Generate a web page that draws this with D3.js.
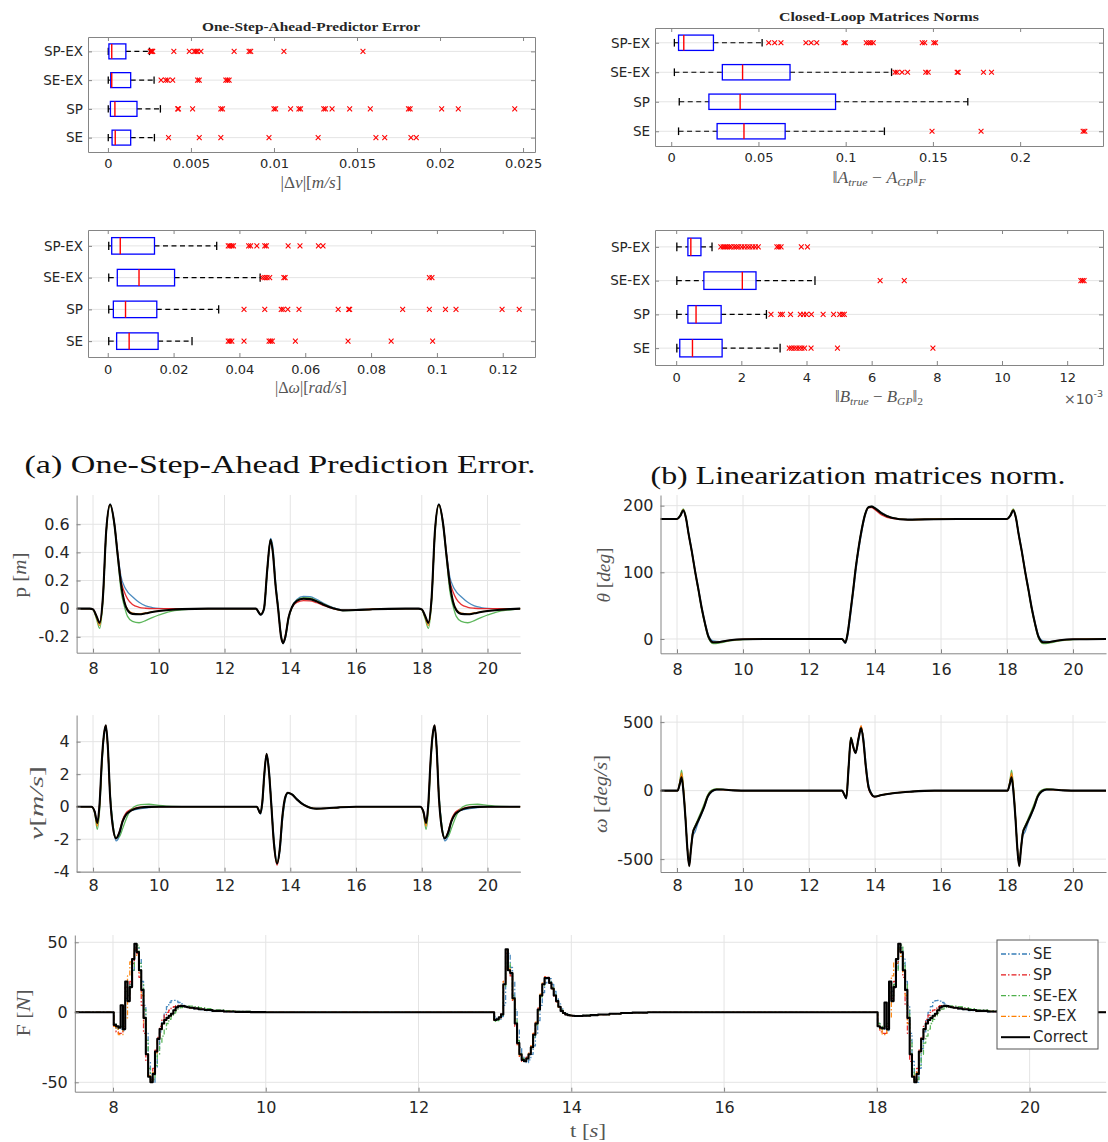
<!DOCTYPE html>
<html>
<head>
<meta charset="utf-8">
<script src="https://cdn.jsdelivr.net/npm/d3@7"></script>
<style>
  body { margin: 0; background: #fff; }
  svg { display: block; }
</style>
</head>
<body>
<svg id="fig" width="1108" height="1142"></svg>
<script>
// ---------------- box-plot statistics ----------------
// category order from bottom to top of each box plot
const CATS = ["SE", "SP", "SE-EX", "SP-EX"];

// each row: [lower whisker, q1, median, q3, upper whisker]
const dvStats = [
  [0.00002, 0.00025, 0.00044, 0.00137, 0.0028],
  [0.00002, 0.00015, 0.00042, 0.00175, 0.00316],
  [0.00002, 0.00017, 0.00023, 0.00137, 0.00278],
  [0.00002, 0.00006, 0.00023, 0.00108, 0.0025]
];
const dvOutliers = [
  [0.00365, 0.0055, 0.0068, 0.0097, 0.01266, 0.01614, 0.01667, 0.01825, 0.01857],
  [0.0042, 0.00425, 0.0051, 0.0068, 0.0069, 0.0100, 0.0101, 0.0110, 0.0115, 0.0116, 0.0130, 0.0131, 0.0135, 0.01456, 0.0158, 0.0181, 0.0182, 0.0201, 0.0211, 0.0245],
  [0.0032, 0.00348, 0.0036, 0.0039, 0.0054, 0.0055, 0.0071, 0.0072, 0.0073],
  [0.00255, 0.0026, 0.00265, 0.0027, 0.00397, 0.0049, 0.0052, 0.0053, 0.0054, 0.0056, 0.0076, 0.0085, 0.0086, 0.0106, 0.01536]
];
const dvTicks = [0, 0.005, 0.01, 0.015, 0.02, 0.025];
const dvTickLabels = ["0", "0.005", "0.01", "0.015", "0.02", "0.025"];

const aStats = [
  [0.0042, 0.0263, 0.0417, 0.0653, 0.1222],
  [0.0046, 0.0216, 0.0395, 0.0942, 0.17],
  [0.0018, 0.0293, 0.0409, 0.0681, 0.1263],
  [0.0018, 0.0042, 0.0072, 0.0242, 0.0521]
];
const aOutliers = [
  [0.1495, 0.1776, 0.2361, 0.2371],
  [],
  [0.1283, 0.1295, 0.1323, 0.1355, 0.1459, 0.1473, 0.1639, 0.1645, 0.179, 0.1836],
  [0.0559, 0.0593, 0.0629, 0.0772, 0.0802, 0.0834, 0.099, 0.0998, 0.1118, 0.1132, 0.1144, 0.1158, 0.1439, 0.1453, 0.1505, 0.1515]
];
const aTicks = [0, 0.05, 0.1, 0.15, 0.2];
const aTickLabels = ["0", "0.05", "0.1", "0.15", "0.2"];

const dwStats = [
  [0.0003, 0.0027, 0.0065, 0.0153, 0.0256],
  [0.0003, 0.0017, 0.0054, 0.0149, 0.0337],
  [0.0003, 0.0029, 0.0095, 0.0203, 0.0463],
  [0.0003, 0.0012, 0.0038, 0.0142, 0.0331]
];
const dwOutliers = [
  [0.0366, 0.0371, 0.0377, 0.0414, 0.049, 0.0495, 0.05, 0.057, 0.073, 0.0861, 0.0987],
  [0.0414, 0.0477, 0.0527, 0.0533, 0.0547, 0.0581, 0.07, 0.0732, 0.0735, 0.0896, 0.0977, 0.1026, 0.1058, 0.1198, 0.125],
  [0.047, 0.0477, 0.0484, 0.0492, 0.0535, 0.0539, 0.0977, 0.0985],
  [0.0366, 0.0371, 0.0377, 0.0382, 0.0428, 0.0434, 0.0453, 0.0477, 0.0482, 0.0548, 0.0584, 0.064, 0.0654]
];
const dwTicks = [0, 0.02, 0.04, 0.06, 0.08, 0.1, 0.12];
const dwTickLabels = ["0", "0.02", "0.04", "0.06", "0.08", "0.1", "0.12"];

// values in units of 1e-3
const bStats = [
  [0.02, 0.11, 0.5, 1.41, 3.19],
  [0.02, 0.36, 0.61, 1.38, 2.77],
  [0.02, 0.85, 2.03, 2.45, 4.26],
  [0.02, 0.36, 0.45, 0.76, 1.1]
];
const bOutliers = [
  [3.47, 3.54, 3.62, 3.7, 3.78, 3.86, 3.94, 4.14, 4.95, 7.88],
  [2.91, 3.2, 3.26, 3.51, 3.81, 3.91, 4.0, 4.15, 4.51, 4.83, 5.02, 5.1, 5.16],
  [6.26, 7.0, 12.42, 12.47, 12.52],
  [1.37, 1.44, 1.5, 1.56, 1.63, 1.69, 1.78, 1.85, 1.92, 2.01, 2.09, 2.18, 2.26, 2.35, 2.43, 2.52, 3.09, 3.15, 3.22, 3.84, 4.03]
];
const bTicks = [0, 2, 4, 6, 8, 10, 12];
const bTickLabels = ["0", "2", "4", "6", "8", "10", "12"];

// ---------------- time histories ----------------
const SERIES = ["SE", "SP", "SE-EX", "SP-EX", "Correct"];
const timeTicks = [8, 10, 12, 14, 16, 18, 20];

// cart position p [m]
const tP = [7.5,7.9,8.0,8.1,8.2,8.3,8.4,8.52,8.65,8.75,8.85,8.95,9.05,9.2,9.4,9.6,9.8,10.0,10.3,10.7,11.5,12.5,
  12.95,13.1,13.2,13.3,13.4,13.47,13.55,13.63,13.72,13.78,13.85,13.95,14.05,14.2,14.4,14.6,14.8,15.0,15.3,15.6,16.0,16.5,17.5,17.9,
  18.0,18.1,18.2,18.3,18.4,18.52,18.65,18.75,18.85,18.95,19.05,19.2,19.4,19.6,19.8,20.0,20.3,20.7,21.0];
const pSE = [0,0,-0.005,-0.055,-0.11,0.07,0.54,0.745,0.61,0.40,0.23,0.16,0.12,0.085,0.045,0.02,0.008,0.002,0,0,0,0,
  0,-0.045,-0.01,0.26,0.5,0.44,0.2,0.02,-0.19,-0.25,-0.21,-0.07,0.01,0.065,0.088,0.086,0.066,0.04,0.008,-0.01,-0.01,-0.004,0,0,
  -0.005,-0.055,-0.11,0.07,0.54,0.745,0.61,0.40,0.23,0.16,0.12,0.085,0.045,0.02,0.008,0.002,0,0,0];
const pSP = [0,0,-0.005,-0.05,-0.10,0.08,0.55,0.74,0.60,0.39,0.2,0.12,0.07,0.03,0.01,0.003,0,0,0,0,0,0,
  0,-0.04,0.0,0.28,0.48,0.4,0.17,0.0,-0.2,-0.24,-0.19,-0.06,0.008,0.045,0.057,0.056,0.042,0.024,0.0,-0.012,-0.01,-0.004,0,0,
  -0.005,-0.05,-0.10,0.08,0.55,0.74,0.60,0.39,0.2,0.12,0.07,0.03,0.01,0.003,0,0,0,0,0];
const pSEEX = [0,0,-0.008,-0.07,-0.14,0.05,0.53,0.735,0.59,0.37,0.13,0.02,-0.055,-0.09,-0.1,-0.085,-0.063,-0.045,-0.022,-0.008,0,0,
  0,-0.04,0.0,0.27,0.49,0.41,0.18,0.01,-0.19,-0.24,-0.2,-0.065,0.01,0.06,0.078,0.076,0.058,0.034,0.004,-0.014,-0.012,-0.005,0,0,
  -0.008,-0.07,-0.14,0.05,0.53,0.735,0.59,0.37,0.13,0.02,-0.055,-0.09,-0.1,-0.085,-0.063,-0.045,-0.022,-0.008,0];
const pSPEX = [0,0,-0.006,-0.06,-0.12,0.07,0.54,0.74,0.6,0.38,0.17,0.055,-0.005,-0.032,-0.036,-0.03,-0.022,-0.015,-0.008,-0.003,0,0,
  0,-0.042,0.0,0.28,0.49,0.4,0.17,0.0,-0.2,-0.245,-0.2,-0.06,0.01,0.055,0.07,0.068,0.052,0.03,0.003,-0.012,-0.01,-0.004,0,0,
  -0.006,-0.06,-0.12,0.07,0.54,0.74,0.6,0.38,0.17,0.055,-0.005,-0.032,-0.036,-0.03,-0.022,-0.015,-0.008,-0.003,0];
const pTrue = [0,0,-0.005,-0.05,-0.10,0.08,0.55,0.74,0.60,0.38,0.18,0.05,-0.01,-0.037,-0.04,-0.033,-0.024,-0.017,-0.009,-0.003,0,0,
  0,-0.042,0.0,0.28,0.49,0.4,0.17,0.0,-0.2,-0.245,-0.2,-0.06,0.01,0.055,0.07,0.068,0.052,0.03,0.003,-0.012,-0.01,-0.004,0,0,
  -0.005,-0.05,-0.10,0.08,0.55,0.74,0.60,0.38,0.18,0.05,-0.01,-0.037,-0.04,-0.033,-0.024,-0.017,-0.009,-0.003,0];
const pTicks = [-0.2, 0, 0.2, 0.4, 0.6];

// pole angle theta [deg]
const tTh = [7.5,8.0,8.1,8.19,8.27,8.35,8.45,8.55,8.65,8.75,8.85,8.95,9.1,9.3,9.6,10.0,11.0,12.5,
  13.0,13.1,13.17,13.25,13.33,13.42,13.5,13.6,13.7,13.8,13.9,14.0,14.2,14.5,15.0,15.5,16.5,17.5,
  18.0,18.1,18.19,18.27,18.35,18.45,18.55,18.65,18.75,18.85,18.95,19.1,19.3,19.6,20.0,21.0];
const thSE = [180,180,184,192,182,160,133,103,76,48,25,6,-3,-4,-2,-0.5,0,0,
  0,-6.5,4,32,64,102,131,161,185,197,199,197,189.5,182.5,179,179.5,180,180,
  180,184,192,182,160,133,103,76,48,25,6,-3,-4,-2,-0.5,0];
const thSP = [180,180,185,193,181,157,130,100,73,45,22,3,-6.5,-5,-2,-0.5,0,0,
  0,-5.5,8,38,70,108,136,165,187,197,197,194,186,181,179,179.5,180,180,
  180,185,193,181,157,130,100,73,45,22,3,-6.5,-5,-2,-0.5,0];
const thSEEX = [180,180,186,195,183,158,130,100,72,44,21,2,-7,-6,-3,-1,0,0,
  0,-5,9,39,71,109,137,166,188,198,199,196.5,189,182,179,179.5,180,180,
  180,186,195,183,158,130,100,72,44,21,2,-7,-6,-3,-1,0];
const thSPEX = [180,180,185,194,182,158,131,101,74,46,23,4,-5,-4.5,-2,-0.5,0,0,
  0,-5.5,8,38,70,108,136,165,187,197.5,198.5,196,188.5,182,179,179.5,180,180,
  180,185,194,182,158,131,101,74,46,23,4,-5,-4.5,-2,-0.5,0];
const thTrue = [180,180,185,193,182,158,131,101,74,46,23,4,-5,-4.5,-2,-0.5,0,0,
  0,-5.5,8,38,70,108,136,165,187,197.5,198.5,196,188.5,182,179,179.5,180,180,
  180,185,193,182,158,131,101,74,46,23,4,-5,-4.5,-2,-0.5,0];
const thTicks = [0, 100, 200];

// cart velocity v [m/s]
const tV = [7.5,7.95,8.05,8.13,8.2,8.27,8.33,8.39,8.45,8.52,8.6,8.7,8.8,8.9,9.0,9.1,9.25,9.45,9.7,10.0,10.4,11.0,12.5,
  12.98,13.09,13.15,13.21,13.28,13.35,13.42,13.5,13.6,13.68,13.76,13.85,13.93,14.05,14.2,14.4,14.6,14.8,15.1,15.5,16.0,17.5,
  17.95,18.05,18.13,18.2,18.27,18.33,18.39,18.45,18.52,18.6,18.7,18.8,18.9,19.0,19.1,19.25,19.45,19.7,20.0,20.4,21.0];
const vSE = [0,0,-0.3,-1.05,0.1,2.7,4.3,4.95,3.7,0.8,-1.0,-2.1,-1.8,-0.9,-0.45,-0.3,-0.2,-0.12,-0.05,-0.01,0,0,0,
  0,-0.45,0.1,1.8,3.2,2.4,0.4,-1.9,-3.4,-2.8,-0.9,0.45,0.82,0.76,0.47,0.14,-0.05,-0.13,-0.11,-0.04,0,0,
  0,-0.3,-1.05,0.1,2.7,4.3,4.95,3.7,0.8,-1.0,-2.1,-1.8,-0.9,-0.45,-0.3,-0.2,-0.12,-0.05,-0.01,0,0];
const vSP = [0,0,-0.3,-1.0,0.2,2.9,4.4,5.0,3.6,0.6,-1.2,-1.95,-1.55,-0.8,-0.4,-0.22,-0.1,-0.03,0,0,0,0,0,
  0,-0.4,0.3,2.0,3.25,2.2,0.2,-2.25,-3.6,-2.6,-0.6,0.6,0.86,0.75,0.45,0.12,-0.06,-0.12,-0.1,-0.04,0,0,
  0,-0.3,-1.0,0.2,2.9,4.4,5.0,3.6,0.6,-1.2,-1.95,-1.55,-0.8,-0.4,-0.22,-0.1,-0.03,0,0,0,0];
const vSEEX = [0,0,-0.4,-1.4,-0.2,2.6,4.3,4.9,3.7,0.8,-1.0,-1.9,-1.85,-1.35,-0.8,-0.35,0.0,0.13,0.15,0.08,0.02,0,0,
  0,-0.4,0.25,1.95,3.2,2.25,0.25,-2.1,-3.45,-2.65,-0.7,0.55,0.85,0.76,0.46,0.13,-0.05,-0.13,-0.11,-0.04,0,0,
  0,-0.4,-1.4,-0.2,2.6,4.3,4.9,3.7,0.8,-1.0,-1.9,-1.85,-1.35,-0.8,-0.35,0.0,0.13,0.15,0.08,0.02,0];
const vSPEX = [0,0,-0.35,-1.2,0.1,2.8,4.4,5.0,3.6,0.6,-1.2,-1.95,-1.6,-0.9,-0.5,-0.3,-0.14,-0.05,-0.01,0,0,0,0,
  0,-0.4,0.3,2.0,3.25,2.2,0.2,-2.2,-3.5,-2.6,-0.6,0.6,0.86,0.75,0.45,0.12,-0.06,-0.12,-0.1,-0.04,0,0,
  0,-0.35,-1.2,0.1,2.8,4.4,5.0,3.6,0.6,-1.2,-1.95,-1.6,-0.9,-0.5,-0.3,-0.14,-0.05,-0.01,0,0,0];
const vTrue = [0,0,-0.3,-1.0,0.2,2.9,4.4,5.0,3.7,0.6,-1.2,-1.95,-1.6,-0.9,-0.5,-0.32,-0.15,-0.05,-0.01,0,0,0,0,
  0,-0.4,0.3,2.0,3.25,2.2,0.2,-2.2,-3.5,-2.6,-0.6,0.6,0.86,0.75,0.45,0.12,-0.06,-0.12,-0.1,-0.04,0,0,
  0,-0.3,-1.0,0.2,2.9,4.4,5.0,3.7,0.6,-1.2,-1.95,-1.6,-0.9,-0.5,-0.32,-0.15,-0.05,-0.01,0,0,0];
const vTicks = [-4, -2, 0, 2, 4];

// pole angular velocity omega [deg/s]
const tW = [7.5,8.02,8.08,8.14,8.2,8.26,8.31,8.37,8.42,8.48,8.55,8.63,8.72,8.82,8.93,9.05,9.2,9.4,9.7,10.2,12.5,
  13.0,13.08,13.13,13.2,13.27,13.34,13.41,13.5,13.58,13.65,13.72,13.8,13.88,13.98,14.2,14.6,15.1,15.8,17.5,
  18.02,18.08,18.14,18.2,18.26,18.31,18.37,18.42,18.48,18.55,18.63,18.72,18.82,18.93,19.05,19.2,19.4,19.7,20.2,21.0];
const wSE = [0,0,40,90,-30,-220,-405,-540,-440,-330,-300,-240,-185,-125,-50,-10,5,8,2,0,0,
  0,-40,-60,140,370,330,270,360,445,390,210,50,-15,-42,-33,-18,-7,0,0,
  0,40,90,-30,-220,-405,-540,-440,-330,-300,-240,-185,-125,-50,-10,5,8,2,0,0];
const wSP = [0,0,50,110,-10,-210,-405,-545,-430,-305,-262,-220,-172,-112,-38,-2,9,8,2,0,0,
  0,-35,-50,180,385,315,275,385,470,355,170,20,-25,-46,-32,-17,-7,0,0,
  0,50,110,-10,-210,-405,-545,-430,-305,-262,-220,-172,-112,-38,-2,9,8,2,0,0];
const wSEEX = [0,0,60,150,10,-200,-400,-540,-425,-300,-255,-210,-160,-100,-30,4,12,9,2,0,0,
  0,-30,-50,185,390,318,278,382,462,362,178,28,-20,-44,-32,-17,-7,0,0,
  0,60,150,10,-200,-400,-540,-425,-300,-255,-210,-160,-100,-30,4,12,9,2,0,0];
const wSPEX = [0,0,55,130,0,-205,-405,-548,-432,-308,-263,-222,-175,-116,-40,-3,9,8,2,0,0,
  0,-35,-55,175,385,320,276,383,475,360,178,28,-20,-44,-32,-17,-7,0,0,
  0,55,130,0,-205,-405,-548,-432,-308,-263,-222,-175,-116,-40,-3,9,8,2,0,0];
const wTrue = [0,0,45,97,-20,-215,-410,-551,-434,-310,-265,-225,-178,-120,-44,-5,8,8,2,0,0,
  0,-35,-55,170,383,320,275,380,456,360,180,30,-20,-44,-32,-17,-7,0,0,
  0,45,97,-20,-215,-410,-551,-434,-310,-265,-225,-178,-120,-44,-5,8,8,2,0,0];
const wTicks = [-500, 0, 500];

// control force F [N], sampled and held
const tF = [7.5,
  8.01,8.04,8.07,8.10,8.13,8.16,8.19,8.22,8.25,8.28,8.31,8.34,8.37,8.40,8.43,8.46,8.49,8.52,8.55,8.58,
  8.61,8.64,8.67,8.70,8.73,8.76,8.79,8.82,8.85,8.88,8.91,8.94,8.97,9.00,
  9.06,9.12,9.2,9.3,9.45,9.6,9.8,10.0,
  12.99,13.02,13.05,13.08,13.11,13.14,13.17,13.20,13.23,13.26,13.29,13.32,13.35,13.38,13.41,13.44,13.47,13.50,13.53,13.56,
  13.59,13.62,13.65,13.68,13.71,13.74,13.77,13.80,13.83,13.86,13.89,13.92,13.95,13.98,14.01,14.04,14.07,
  14.15,14.25,14.35,14.5,14.65,14.8,15.0,
  18.01,18.04,18.07,18.10,18.13,18.16,18.19,18.22,18.25,18.28,18.31,18.34,18.37,18.40,18.43,18.46,18.49,18.52,18.55,18.58,
  18.61,18.64,18.67,18.70,18.73,18.76,18.79,18.82,18.85,18.88,18.91,18.94,18.97,19.00,
  19.06,19.12,19.2,19.3,19.45,19.6,19.8,20.0,21.0];
const fSE = [0,
  -8,-11,-12,-12,-13,10,15,20,30,44,46,38,22,5,-15,-35,-48,-50,-40,-26,
  -14,-6,0,4,7,8.3,8.5,8,7,6,5,4.2,3.5,3,
  2.4,1.9,1.3,0.8,0.4,0.2,0.1,0,
  -3,-5.5,-5,-3,5,30,42,32,22,2,-12,-25,-32,-35,-36,-34,-30,-24,-15,-6,
  5,14,21,25,24,20,15,10,6,2.5,0.5,-1,-1.8,-2.3,-2.6,-2.7,-2.7,
  -2.5,-2.1,-1.7,-1.1,-0.6,-0.2,0,
  -8,-11,-12,-12,-13,10,15,20,30,44,46,38,22,5,-15,-35,-48,-50,-40,-26,
  -14,-6,0,4,7,8.3,8.5,8,7,6,5,4.2,3.5,3,
  2.4,1.9,1.3,0.8,0.4,0.2,0.1,0,0];
const fSP = [0,
  -10,-14,-15,-15,-10,18,10,22,35,46,42,25,5,-15,-35,-46,-48,-40,-27,-18,
  -10,-5,-2,0,1.5,3,4,4.8,5,4.8,4.4,4,3.6,3.2,
  2.6,2.1,1.5,0.9,0.5,0.3,0.1,0,
  -5.5,-5,-4,-1,22,42,30,26,8,-10,-24,-32,-35,-35,-32,-29,-24,-15,-7,3,
  13,21,25.5,25,21,16.5,11.5,7.5,3.5,0.8,-0.7,-1.6,-2.1,-2.4,-2.5,-2.6,-2.6,
  -2.4,-2,-1.6,-1.0,-0.5,-0.2,0,
  -10,-14,-15,-15,-10,18,10,22,35,46,42,25,5,-15,-35,-46,-48,-40,-27,-18,
  -10,-5,-2,0,1.5,3,4,4.8,5,4.8,4.4,4,3.6,3.2,
  2.6,2.1,1.5,0.9,0.5,0.3,0.1,0,0];
const fSEEX = [0,
  -8,-12,-10,-10,-8,15,12,20,30,46,48,35,20,2,-20,-40,-48,-48,-38,-30,
  -22,-17,-12,-8,-5,-2.5,-0.5,1,2.3,3.3,4,4.4,4.5,4.4,
  4,3.4,2.6,1.8,1.1,0.6,0.3,0,
  -6.5,-6,-4.5,-2,18,40,35,28,12,-5,-20,-29,-33,-34.5,-33,-30,-26,-18,-9,1,
  11,19,24,24.5,21.5,17.5,12.5,8.5,4.5,1.5,-0.3,-1.3,-1.9,-2.2,-2.4,-2.5,-2.5,
  -2.3,-2,-1.6,-1.0,-0.5,-0.2,0,
  -8,-12,-10,-10,-8,15,12,20,30,46,48,35,20,2,-20,-40,-48,-48,-38,-30,
  -22,-17,-12,-8,-5,-2.5,-0.5,1,2.3,3.3,4,4.4,4.5,4.4,
  4,3.4,2.6,1.8,1.1,0.6,0.3,0,0];
const fSPEX = [0,
  -10,-12,-16,-16,-12,-4,26,36,38,45,40,28,12,-8,-30,-45,-49,-43,-29,-19,
  -12,-8,-5.5,-4,-2.5,-1,1.5,3.5,4.3,4.6,4.4,4,3.6,3.3,
  2.8,2.2,1.6,1.0,0.6,0.3,0.1,0,
  -5.5,-5,-3.5,-1,22,44,31,28,9,-8,-23,-31,-34,-35,-33,-29,-24,-15,-7,3,
  13,21,25,24.5,21,16.5,11.5,7.5,3.5,0.8,-0.6,-1.5,-2,-2.3,-2.5,-2.6,-2.6,
  -2.4,-2,-1.6,-1.0,-0.5,-0.2,0,
  -10,-12,-16,-16,-12,-4,26,36,38,45,40,28,12,-8,-30,-45,-49,-43,-29,-19,
  -12,-8,-5.5,-4,-2.5,-1,1.5,3.5,4.3,4.6,4.4,4,3.6,3.3,
  2.8,2.2,1.6,1.0,0.6,0.3,0.1,0,0];
const fTrue = [0,
  -9,-10,-11,5,-12,22,8,18,38,49,43,30,16,-4,-30,-46,-50,-44,-28,-19,
  -12,-8,-5.5,-4,-2.5,-1,1.5,3.5,4.3,4.6,4.4,4,3.6,3.3,
  2.8,2.2,1.6,1.0,0.6,0.3,0.1,0,
  -5.5,-5,-3.5,-1.5,20,45,30,28,10,-8,-22,-30,-34,-35,-33,-30,-25,-16,-8,2,
  12,20,24.5,24.5,21,17,12,8,4,1,-0.5,-1.5,-2,-2.3,-2.5,-2.6,-2.6,
  -2.4,-2,-1.6,-1.0,-0.5,-0.2,0,
  -10,-11,-11.5,7,-12,22,8,18,38,49,43,30,16,-4,-30,-46,-50,-44,-28,-19,
  -12,-8,-5.5,-4,-2.5,-1,1.5,3.5,4.3,4.6,4.4,4,3.6,3.3,
  2.8,2.2,1.6,1.0,0.6,0.3,0.1,0,0];
const fTicks = [-50, 0, 50];

// ---------------- styling ----------------
const SANS = '"DejaVu Sans", "Liberation Sans", sans-serif';
const SERIF = '"Liberation Serif", "DejaVu Serif", serif';
const AXIS = "#858585";
const GRID = "#e4e4e4";
const TICK_TXT = "#262626";
const LABEL = "#555555";
const COLORS = { "SE": "#377eb8", "SP": "#e41a1c", "SE-EX": "#4daf4a", "SP-EX": "#ff7f00", "Correct": "#000000" };

const svg = d3.select("#fig");

function styleAxis(sel, size) {
  sel.select(".domain").attr("stroke", AXIS).attr("stroke-width", 1);
  sel.selectAll(".tick line").attr("stroke", AXIS);
  sel.selectAll(".tick text").attr("fill", TICK_TXT).attr("font-family", SANS).attr("font-size", size || 13);
}

// text with italic / sub / superscript runs; parts = [[string, flags]]
function richText(g, x, y, parts, o) {
  const size = o.size;
  const t = g.append("text")
    .attr("x", x).attr("y", y)
    .attr("font-family", o.family || SERIF)
    .attr("font-size", size)
    .attr("fill", o.color || LABEL)
    .attr("text-anchor", o.anchor || "middle")
    .attr("dominant-baseline", "central");
  if (o.rotate) t.attr("transform", `rotate(-90,${x},${y})`);
  if (o.width) t.attr("textLength", o.width).attr("lengthAdjust", "spacingAndGlyphs");
  let shift = 0;
  parts.forEach(([s, f]) => {
    f = f || {};
    const ts = t.append("tspan").text(s);
    const target = f.sub ? size * 0.3 : (f.sup ? -size * 0.4 : 0);
    if (target !== shift) { ts.attr("dy", target - shift); shift = target; }
    if (f.i) ts.attr("font-style", "italic");
    if (f.sub || f.sup) ts.attr("font-size", size * 0.68);
  });
  return t;
}

// ---------------- box plots ----------------
function boxPanel(o) {
  const x = d3.scaleLinear().domain(o.domain).range([o.x0, o.x1]);
  const y = d3.scaleLinear().domain([0.5, 4.5]).range([o.y1, o.y0]);
  const band = (o.y1 - o.y0) / 4;
  const g = svg.append("g");

  g.append("g").selectAll("line").data(CATS).join("line")
    .attr("x1", o.x0).attr("x2", o.x1)
    .attr("y1", (d, i) => y(i + 1)).attr("y2", (d, i) => y(i + 1))
    .attr("stroke", GRID).attr("stroke-width", 1);

  g.append("g").attr("transform", `translate(0,${o.y1})`)
    .call(d3.axisBottom(x).tickValues(o.ticks).tickFormat((d, i) => o.tickLabels[i])
      .tickSizeInner(-4).tickSizeOuter(0).tickPadding(o.pad))
    .call(styleAxis, 13);
  g.append("g").attr("transform", `translate(0,${o.y0})`)
    .call(d3.axisTop(x).tickValues(o.ticks).tickFormat("").tickSizeInner(-4).tickSizeOuter(0))
    .call(styleAxis);
  g.append("g").attr("transform", `translate(${o.x0},0)`)
    .call(d3.axisLeft(y).tickValues([1, 2, 3, 4]).tickFormat(d => CATS[d - 1])
      .tickSizeInner(-4).tickSizeOuter(0).tickPadding(5))
    .call(styleAxis, 13.5);
  g.append("g").attr("transform", `translate(${o.x1},0)`)
    .call(d3.axisRight(y).tickValues([1, 2, 3, 4]).tickFormat("").tickSizeInner(-4).tickSizeOuter(0))
    .call(styleAxis);

  const h = band * 0.52, cap = band * 0.13;
  o.stats.forEach((s, i) => {
    const cy = y(i + 1);
    const row = g.append("g");
    [[s[0], s[1]], [s[3], s[4]]].forEach(([a, b]) => {
      row.append("line").attr("x1", x(a)).attr("x2", x(b)).attr("y1", cy).attr("y2", cy)
        .attr("stroke", "#000").attr("stroke-width", 1.1).attr("stroke-dasharray", "5,3.5");
    });
    [s[0], s[4]].forEach(v => {
      row.append("line").attr("x1", x(v)).attr("x2", x(v)).attr("y1", cy - cap).attr("y2", cy + cap)
        .attr("stroke", "#000").attr("stroke-width", 1.3);
    });
    row.append("rect").attr("x", x(s[1])).attr("y", cy - h / 2)
      .attr("width", x(s[3]) - x(s[1])).attr("height", h)
      .attr("fill", "none").attr("stroke", "#0000ff").attr("stroke-width", 1.3);
    row.append("line").attr("x1", x(s[2])).attr("x2", x(s[2])).attr("y1", cy - h / 2).attr("y2", cy + h / 2)
      .attr("stroke", "#ff0000").attr("stroke-width", 1.4);
    row.selectAll("path.out").data(o.outliers[i]).join("path")
      .attr("class", "out")
      .attr("transform", d => `translate(${x(d)},${cy})`)
      .attr("d", "M-2.4,-2.4L2.4,2.4M-2.4,2.4L2.4,-2.4")
      .attr("stroke", "#ff0000").attr("stroke-width", 1.1).attr("fill", "none");
  });
  return g;
}

boxPanel({ x0: 88, x1: 535, y0: 37, y1: 152, domain: [-0.0012, 0.02572],
  ticks: dvTicks, tickLabels: dvTickLabels, stats: dvStats, outliers: dvOutliers, pad: 7 });
boxPanel({ x0: 655, x1: 1103, y0: 28, y1: 146, domain: [-0.0093, 0.2475],
  ticks: aTicks, tickLabels: aTickLabels, stats: aStats, outliers: aOutliers, pad: 7 });
boxPanel({ x0: 88, x1: 535, y0: 230, y1: 357, domain: [-0.006, 0.1298],
  ticks: dwTicks, tickLabels: dwTickLabels, stats: dwStats, outliers: dwOutliers, pad: 8 });
boxPanel({ x0: 655, x1: 1103, y0: 230, y1: 365, domain: [-0.65, 13.1],
  ticks: bTicks, tickLabels: bTickLabels, stats: bStats, outliers: bOutliers, pad: 8 });

// titles
svg.append("text").attr("x", 311).attr("y", 27).attr("text-anchor", "middle").attr("dominant-baseline", "central")
  .attr("font-family", SERIF).attr("font-weight", "bold").attr("font-size", 12.5).attr("fill", "#262626")
  .attr("textLength", 218).attr("lengthAdjust", "spacingAndGlyphs")
  .text("One-Step-Ahead-Predictor Error");
svg.append("text").attr("x", 879).attr("y", 17).attr("text-anchor", "middle").attr("dominant-baseline", "central")
  .attr("font-family", SERIF).attr("font-weight", "bold").attr("font-size", 12.5).attr("fill", "#262626")
  .attr("textLength", 200).attr("lengthAdjust", "spacingAndGlyphs")
  .text("Closed-Loop Matrices Norms");

// box-plot axis labels
richText(svg, 311, 182, [["|Δ"], ["v", { i: 1 }], ["|["], ["m/s", { i: 1 }], ["]"]], { size: 16, width: 61 });
richText(svg, 879, 177, [["‖"], ["A", { i: 1 }], ["true", { i: 1, sub: 1 }], [" − "], ["A", { i: 1 }], ["GP", { i: 1, sub: 1 }], ["‖"], ["F", { i: 1, sub: 1 }]], { size: 16, width: 93 });
richText(svg, 311, 387, [["|Δ"], ["ω", { i: 1 }], ["|["], ["rad/s", { i: 1 }], ["]"]], { size: 16, width: 72 });
richText(svg, 879, 396, [["‖"], ["B", { i: 1 }], ["true", { i: 1, sub: 1 }], [" − "], ["B", { i: 1 }], ["GP", { i: 1, sub: 1 }], ["‖"], ["2", { sub: 1 }]], { size: 16, width: 88 });
richText(svg, 1103, 399, [["×10"], ["-3", { sup: 1 }]], { size: 14, anchor: "end", family: SANS, color: "#555" });

// sub-figure captions
svg.append("text").attr("x", 280).attr("y", 464).attr("text-anchor", "middle").attr("dominant-baseline", "central")
  .attr("font-family", SERIF).attr("font-size", 26).attr("fill", "#111")
  .attr("textLength", 511).attr("lengthAdjust", "spacingAndGlyphs")
  .text("(a) One-Step-Ahead Prediction Error.");
svg.append("text").attr("x", 858).attr("y", 475).attr("text-anchor", "middle").attr("dominant-baseline", "central")
  .attr("font-family", SERIF).attr("font-size", 26).attr("fill", "#111")
  .attr("textLength", 415).attr("lengthAdjust", "spacingAndGlyphs")
  .text("(b) Linearization matrices norm.");

// ---------------- time panels ----------------
function timePanel(o) {
  const x = d3.scaleLinear().domain([7.5, 21]).range([o.x0, o.x1]);
  const y = d3.scaleLinear().domain(o.yDomain).range([o.y1, o.y0]);
  const g = svg.append("g");

  g.append("g").selectAll("line").data(timeTicks).join("line")
    .attr("x1", d => x(d)).attr("x2", d => x(d)).attr("y1", o.y0).attr("y2", o.y1)
    .attr("stroke", GRID);
  g.append("g").selectAll("line").data(o.yTicks).join("line")
    .attr("x1", o.x0).attr("x2", o.x1).attr("y1", d => y(d)).attr("y2", d => y(d))
    .attr("stroke", GRID);

  const line = d3.line().x(d => x(d[0])).y(d => y(d[1])).curve(o.curve || d3.curveMonotoneX);
  const clipId = "clip" + Math.round(o.x0) + "_" + Math.round(o.y0);
  svg.append("clipPath").attr("id", clipId).append("rect")
    .attr("x", o.x0).attr("y", o.y0 - 2).attr("width", o.x1 - o.x0).attr("height", o.y1 - o.y0 + 2);
  const lines = g.append("g").attr("clip-path", `url(#${clipId})`);
  o.series.forEach((vals, k) => {
    const name = SERIES[k];
    const pts = o.t.map((t, i) => [t, vals[i]]).filter(d => d[1] !== undefined);
    lines.append("path").datum(pts)
      .attr("d", line)
      .attr("fill", "none")
      .attr("stroke", COLORS[name])
      .attr("stroke-width", name === "Correct" ? 2.1 : 1.3)
      .attr("stroke-opacity", name === "Correct" ? 1 : 0.9)
      .attr("stroke-dasharray", name !== "Correct" && o.dashed ? "5,2,1.5,2" : null)
      .attr("stroke-linejoin", "round");
  });

  g.append("g").attr("transform", `translate(0,${o.y1})`)
    .call(d3.axisBottom(x).tickValues(timeTicks).tickFormat(d => String(d))
      .tickSizeInner(-4).tickSizeOuter(0).tickPadding(o.xPad))
    .call(styleAxis, 16);
  g.append("g").attr("transform", `translate(${o.x0},0)`)
    .call(d3.axisLeft(y).tickValues(o.yTicks).tickFormat(d => String(d))
      .tickSizeInner(-4).tickSizeOuter(0).tickPadding(7))
    .call(styleAxis, 16);
  return { g, x, y };
}

timePanel({ x0: 76.6, x1: 520.4, y0: 495, y1: 652.7, yDomain: [-0.313, 0.808], yTicks: pTicks,
  t: tP, series: [pSE, pSP, pSEEX, pSPEX, pTrue], xPad: 10 });
timePanel({ x0: 660.5, x1: 1106, y0: 495, y1: 653.3, yDomain: [-21.5, 216], yTicks: thTicks,
  t: tTh, series: [thSE, thSP, thSEEX, thSPEX, thTrue], xPad: 10 });
timePanel({ x0: 76.6, x1: 520.4, y0: 715, y1: 871.7, yDomain: [-4, 5.64], yTicks: vTicks,
  t: tV, series: [vSE, vSP, vSEEX, vSPEX, vTrue], xPad: 8 });
timePanel({ x0: 660.5, x1: 1106, y0: 715, y1: 872, yDomain: [-594, 552], yTicks: wTicks,
  t: tW, series: [wSE, wSP, wSEEX, wSPEX, wTrue], xPad: 8 });
timePanel({ x0: 74.8, x1: 1106, y0: 935, y1: 1091.7, yDomain: [-56.7, 55.2], yTicks: fTicks,
  t: tF, series: [fSE, fSP, fSEEX, fSPEX, fTrue], xPad: 10, curve: d3.curveStepAfter, dashed: true });

// axis labels of the time panels
richText(svg, 20, 575, [["p ["], ["m", { i: 1 }], ["]"]], { size: 18, rotate: true, width: 45 });
richText(svg, 604, 575, [["θ", { i: 1 }], [" ["], ["deg", { i: 1 }], ["]"]], { size: 18, rotate: true, width: 55 });
richText(svg, 37, 803, [["v", { i: 1 }], ["["], ["m/s", { i: 1 }], ["]"]], { size: 18, rotate: true, width: 74 });
richText(svg, 601, 794, [["ω", { i: 1 }], [" ["], ["deg/s", { i: 1 }], ["]"]], { size: 18, rotate: true, width: 78 });
richText(svg, 24, 1013, [["F ["], ["N", { i: 1 }], ["]"]], { size: 18, rotate: true, width: 47 });
richText(svg, 588, 1131, [["t ["], ["s", { i: 1 }], ["]"]], { size: 18, width: 36 });

// legend of the force panel
const lg = svg.append("g").attr("transform", "translate(997,940)");
lg.append("rect").attr("width", 101).attr("height", 109).attr("fill", "#fff").attr("stroke", "#555").attr("stroke-width", 1);
SERIES.forEach((name, i) => {
  const yy = 14 + i * 20.8;
  lg.append("line").attr("x1", 4).attr("x2", 33).attr("y1", yy).attr("y2", yy)
    .attr("stroke", COLORS[name]).attr("stroke-width", name === "Correct" ? 2 : 1.3)
    .attr("stroke-dasharray", name === "Correct" ? null : "5,2,1.5,2");
  lg.append("text").attr("x", 36).attr("y", yy).attr("dominant-baseline", "central")
    .attr("font-family", SANS).attr("font-size", 15).attr("fill", TICK_TXT).text(name);
});
</script>
</body>
</html>
